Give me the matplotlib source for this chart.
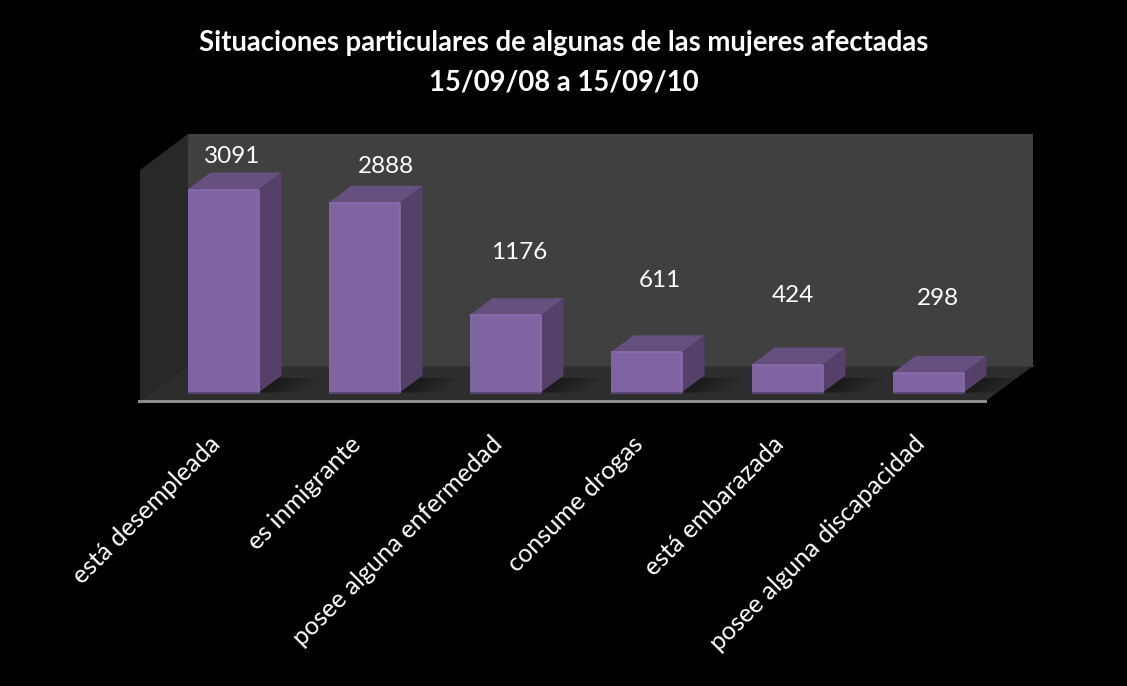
import matplotlib
matplotlib.use('Agg')
import matplotlib.pyplot as plt

categories = ['está desempleada', 'es inmigrante', 'posee alguna enfermedad',
              'consume drogas', 'está embarazada', 'posee alguna discapacidad']
values = [3091, 2888, 1176, 611, 424, 298]
title_lines = ['Situaciones particulares de algunas de las mujeres afectadas', '15/09/08 a 15/09/10']

# layout, in pixels of the 1127x686 picture
W, H = 1127, 686
BASE_PX = 392.5
PX_PER_VALUE = 203 / 3091.
PITCH = 141.
FIRST_BAR = 223.
BAR_WIDTH = 71. / PITCH
DX = 23 / PITCH
DY = 17 / PX_PER_VALUE
title_px = [(564, 43.5), (564, 82.5)]
value_label_px = [(232, 156.5), (386, 166.5), (519, 252.5), (660, 280.5), (793, 295.5), (938, 298.5)]
cat_label_px = [(208, 432), (349, 432), (490, 432), (631, 432), (772, 432), (913, 432)]

plt.rcParams['font.family'] = ['Lato', 'DejaVu Sans']

fig = plt.figure(figsize=(W / 100., H / 100.), dpi=100, facecolor='black')

# walls and floor, pixel coordinates
bg = fig.add_axes([0, 0, 1, 1])
bg.set_xlim(0, W)
bg.set_ylim(H, 0)
bg.axis('off')
bg.fill([188, 1033, 1033, 188], [134, 134, 366, 366], color='#404040', lw=0)
bg.fill([140, 188, 188, 140], [170, 134, 366, 400], color='#282828', lw=0)
bg.fill([140, 188, 1033, 987], [400, 366, 366, 400], color='#2d2d2d', lw=0)
bg.plot([188, 1033], [366, 366], color='#363636', lw=1)
bg.fill([138, 987, 987, 138], [399.5, 399.5, 403, 403], color='#8c8c8c', lw=0)

# bars
ax = fig.add_axes([0, 0, 1, 1])
ax.patch.set_alpha(0)
ax.set_xlim(-FIRST_BAR / PITCH, (W - FIRST_BAR) / PITCH)
ax.set_ylim((BASE_PX - H) / PX_PER_VALUE, BASE_PX / PX_PER_VALUE)
ax.axis('off')

xs = range(len(values))
for x, v in zip(xs, values):
    l = x - BAR_WIDTH / 2.
    r = x + BAR_WIDTH / 2.
    # soft floor shadow
    for i in range(1, 11):
        grow = 0.03 * i
        ax.fill([l - grow * 0.6, r, r + DX * 0.85, r + DX * 0.85 + grow, r + grow],
                [0, 0, DY * 0.85, DY * 0.85, 0], color='black', alpha=0.035, lw=0)
    ax.fill([r, r + DX, r + DX, r], [0, DY, v + DY, v], color='#544069', lw=0)
    ax.fill([l, l + DX, r + DX, r], [v, v + DY, v + DY, v], color='#65507f', lw=0)
    ax.bar(x, v, BAR_WIDTH, color='#8064a2', lw=0)
    ax.plot([l, r], [v, v], color='#8a6dad', lw=1.2, solid_capstyle='butt')
    ax.plot([r, r], [0, v], color='#8a6dad', lw=1.2, solid_capstyle='butt')
    ax.plot([l, r], [0, 0], color='#5a4672', lw=1.5, solid_capstyle='butt')

# text goes on top
fg = fig.add_axes([0, 0, 1, 1])
fg.patch.set_alpha(0)
fg.set_xlim(0, W)
fg.set_ylim(H, 0)
fg.axis('off')
for line, (px, py) in zip(title_lines, title_px):
    fg.text(px, py, line, color='white', fontsize=19.8, fontweight='bold',
            ha='center', va='center')
for v, (px, py) in zip(values, value_label_px):
    fg.text(px, py, str(v), color='white', fontsize=17.5, ha='center', va='center')
for c, (px, py) in zip(categories, cat_label_px):
    fg.text(px, py, c, color='white', fontsize=18.2, rotation=45, rotation_mode='anchor',
            ha='right', va='top')

fig.savefig('out.png', dpi=100, facecolor='black')
